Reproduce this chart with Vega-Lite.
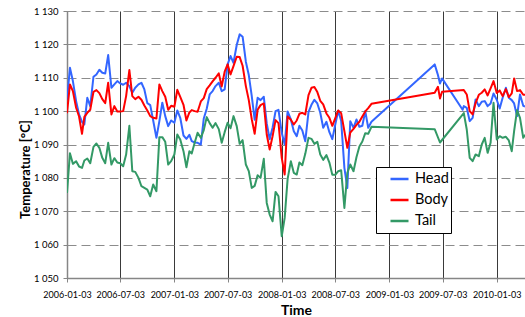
{
  "$schema": "https://vega.github.io/schema/vega-lite/v6.json",
  "width": 458,
  "height": 267,
  "autosize": {"type": "none"},
  "padding": {"left": 67, "top": 11, "right": 0, "bottom": 39},
  "background": "white",
  "config": {"view": {"stroke": null}},
  "data": {"values": [
    {"t": "2006-01-03", "Head": 1103.3, "Body": 1099.4, "Tail": 1075.5},
    {"t": "2006-01-13", "Head": 1113.0, "Body": 1108.0, "Tail": 1087.4},
    {"t": "2006-01-23", "Head": 1109.0, "Body": 1106.0, "Tail": 1084.2},
    {"t": "2006-02-03", "Head": 1103.0, "Body": 1101.0, "Tail": 1085.0},
    {"t": "2006-02-13", "Head": 1099.0, "Body": 1098.4, "Tail": 1083.4},
    {"t": "2006-02-23", "Head": 1096.8, "Body": 1093.2, "Tail": 1083.0},
    {"t": "2006-03-03", "Head": 1096.0, "Body": 1098.3, "Tail": 1085.2},
    {"t": "2006-03-13", "Head": 1104.0, "Body": 1099.5, "Tail": 1085.8},
    {"t": "2006-03-23", "Head": 1101.5, "Body": 1100.4, "Tail": 1084.4},
    {"t": "2006-04-03", "Head": 1110.3, "Body": 1105.8, "Tail": 1089.3},
    {"t": "2006-04-13", "Head": 1111.0, "Body": 1106.3, "Tail": 1090.3},
    {"t": "2006-04-23", "Head": 1112.4, "Body": 1105.4, "Tail": 1089.0},
    {"t": "2006-05-03", "Head": 1111.5, "Body": 1103.6, "Tail": 1086.0},
    {"t": "2006-05-13", "Head": 1111.3, "Body": 1102.4, "Tail": 1084.4},
    {"t": "2006-05-23", "Head": 1116.8, "Body": 1108.5, "Tail": 1090.5},
    {"t": "2006-06-03", "Head": 1107.0, "Body": 1099.0, "Tail": 1084.0},
    {"t": "2006-06-13", "Head": 1108.0, "Body": 1101.5, "Tail": 1085.9},
    {"t": "2006-06-23", "Head": 1109.0, "Body": 1099.9, "Tail": 1084.6},
    {"t": "2006-07-03", "Head": 1108.3, "Body": 1099.9, "Tail": 1084.4},
    {"t": "2006-07-13", "Head": 1107.9, "Body": 1100.0, "Tail": 1083.5},
    {"t": "2006-07-23", "Head": 1108.5, "Body": 1104.5, "Tail": 1087.0},
    {"t": "2006-08-03", "Head": 1107.5, "Body": 1112.3, "Tail": 1095.6},
    {"t": "2006-08-13", "Head": 1105.5, "Body": 1104.5, "Tail": 1082.0},
    {"t": "2006-08-23", "Head": 1107.0, "Body": 1103.6, "Tail": 1081.8},
    {"t": "2006-09-03", "Head": 1108.0, "Body": 1104.3, "Tail": 1080.0},
    {"t": "2006-09-13", "Head": 1108.5, "Body": 1103.4, "Tail": 1077.5},
    {"t": "2006-09-23", "Head": 1106.5, "Body": 1101.7, "Tail": 1077.0},
    {"t": "2006-10-03", "Head": 1102.4, "Body": 1100.2, "Tail": 1076.5},
    {"t": "2006-10-13", "Head": 1101.8, "Body": 1098.5, "Tail": 1074.5},
    {"t": "2006-10-23", "Head": 1097.2, "Body": 1098.0, "Tail": 1078.0},
    {"t": "2006-11-03", "Head": 1092.0, "Body": 1097.8, "Tail": 1076.0},
    {"t": "2006-11-13", "Head": 1097.0, "Body": 1108.0, "Tail": 1092.2},
    {"t": "2006-11-23", "Head": 1102.5, "Body": 1106.0, "Tail": 1092.2},
    {"t": "2006-12-03", "Head": 1098.5, "Body": 1104.3, "Tail": 1090.8},
    {"t": "2006-12-13", "Head": 1095.5, "Body": 1100.4, "Tail": 1084.0},
    {"t": "2006-12-23", "Head": 1097.2, "Body": 1101.6, "Tail": 1085.0},
    {"t": "2007-01-03", "Head": 1096.5, "Body": 1101.3, "Tail": 1087.0},
    {"t": "2007-01-13", "Head": 1100.2, "Body": 1106.4, "Tail": 1093.0},
    {"t": "2007-01-23", "Head": 1098.0, "Body": 1104.3, "Tail": 1091.5},
    {"t": "2007-02-03", "Head": 1092.7, "Body": 1101.9, "Tail": 1088.0},
    {"t": "2007-02-13", "Head": 1091.7, "Body": 1097.2, "Tail": 1083.2},
    {"t": "2007-02-23", "Head": 1092.9, "Body": 1099.6, "Tail": 1088.0},
    {"t": "2007-03-03", "Head": 1091.0, "Body": 1100.3, "Tail": 1087.3},
    {"t": "2007-03-13", "Head": 1090.6, "Body": 1100.0, "Tail": 1090.5},
    {"t": "2007-03-23", "Head": 1090.5, "Body": 1099.8, "Tail": 1093.5},
    {"t": "2007-04-03", "Head": 1090.0, "Body": 1102.9, "Tail": 1092.0},
    {"t": "2007-04-13", "Head": 1097.8, "Body": 1103.9, "Tail": 1094.3},
    {"t": "2007-04-23", "Head": 1100.7, "Body": 1106.6, "Tail": 1098.2},
    {"t": "2007-05-03", "Head": 1105.0, "Body": 1107.7, "Tail": 1096.4},
    {"t": "2007-05-13", "Head": 1106.0, "Body": 1108.9, "Tail": 1095.0},
    {"t": "2007-05-23", "Head": 1107.5, "Body": 1110.0, "Tail": 1096.4},
    {"t": "2007-06-03", "Head": 1108.5, "Body": 1111.3, "Tail": 1094.6},
    {"t": "2007-06-13", "Head": 1106.0, "Body": 1107.4, "Tail": 1090.5},
    {"t": "2007-06-23", "Head": 1106.5, "Body": 1111.8, "Tail": 1093.7},
    {"t": "2007-07-03", "Head": 1114.0, "Body": 1114.0, "Tail": 1096.5},
    {"t": "2007-07-13", "Head": 1116.5, "Body": 1111.0, "Tail": 1094.9},
    {"t": "2007-07-23", "Head": 1114.5, "Body": 1113.5, "Tail": 1098.5},
    {"t": "2007-08-03", "Head": 1119.8, "Body": 1116.3, "Tail": 1095.5},
    {"t": "2007-08-13", "Head": 1123.0, "Body": 1116.2, "Tail": 1090.2},
    {"t": "2007-08-23", "Head": 1122.3, "Body": 1113.6, "Tail": 1091.3},
    {"t": "2007-09-03", "Head": 1114.8, "Body": 1107.5, "Tail": 1084.0},
    {"t": "2007-09-13", "Head": 1110.8, "Body": 1103.3, "Tail": 1082.0},
    {"t": "2007-09-23", "Head": 1104.6, "Body": 1097.6, "Tail": 1077.0},
    {"t": "2007-10-03", "Head": 1097.4, "Body": 1093.2, "Tail": 1077.6},
    {"t": "2007-10-13", "Head": 1104.0, "Body": 1100.4, "Tail": 1080.8},
    {"t": "2007-10-23", "Head": 1103.3, "Body": 1101.8, "Tail": 1080.0},
    {"t": "2007-11-03", "Head": 1104.3, "Body": 1102.3, "Tail": 1085.7},
    {"t": "2007-11-13", "Head": 1096.3, "Body": 1093.0, "Tail": 1072.5},
    {"t": "2007-11-23", "Head": 1091.6, "Body": 1088.5, "Tail": 1069.0},
    {"t": "2007-12-03", "Head": 1095.1, "Body": 1092.5, "Tail": 1067.0},
    {"t": "2007-12-13", "Head": 1100.0, "Body": 1097.3, "Tail": 1075.8},
    {"t": "2007-12-23", "Head": 1100.4, "Body": 1096.4, "Tail": 1074.5},
    {"t": "2008-01-03", "Head": 1093.5, "Body": 1086.0, "Tail": 1062.5},
    {"t": "2008-01-13", "Head": 1090.0, "Body": 1081.0, "Tail": 1068.0},
    {"t": "2008-01-23", "Head": 1099.9, "Body": 1098.4, "Tail": 1079.7},
    {"t": "2008-02-03", "Head": 1097.5, "Body": 1097.4, "Tail": 1085.0},
    {"t": "2008-02-13", "Head": 1094.0, "Body": 1096.0, "Tail": 1081.5},
    {"t": "2008-02-23", "Head": 1092.5, "Body": 1097.2, "Tail": 1081.0},
    {"t": "2008-03-03", "Head": 1095.6, "Body": 1099.2, "Tail": 1084.6},
    {"t": "2008-03-13", "Head": 1094.2, "Body": 1099.5, "Tail": 1083.8},
    {"t": "2008-03-23", "Head": 1091.0, "Body": 1099.0, "Tail": 1087.2},
    {"t": "2008-04-03", "Head": 1099.7, "Body": 1104.8, "Tail": 1092.0},
    {"t": "2008-04-13", "Head": 1101.9, "Body": 1107.0, "Tail": 1091.7},
    {"t": "2008-04-23", "Head": 1103.4, "Body": 1107.2, "Tail": 1090.2},
    {"t": "2008-05-03", "Head": 1102.3, "Body": 1105.7, "Tail": 1090.8},
    {"t": "2008-05-13", "Head": 1099.5, "Body": 1103.1, "Tail": 1087.0},
    {"t": "2008-05-23", "Head": 1095.0, "Body": 1102.0, "Tail": 1085.4},
    {"t": "2008-06-03", "Head": 1096.8, "Body": 1099.3, "Tail": 1086.8},
    {"t": "2008-06-13", "Head": 1093.7, "Body": 1098.0, "Tail": 1084.6},
    {"t": "2008-06-23", "Head": 1091.6, "Body": 1095.6, "Tail": 1080.9},
    {"t": "2008-07-03", "Head": 1096.0, "Body": 1097.9, "Tail": 1080.9},
    {"t": "2008-07-13", "Head": 1100.1, "Body": 1100.2, "Tail": 1082.0},
    {"t": "2008-07-23", "Head": 1097.1, "Body": 1099.4, "Tail": 1082.3},
    {"t": "2008-08-03", "Head": 1083.0, "Body": 1094.0, "Tail": 1071.0},
    {"t": "2008-08-13", "Head": 1077.0, "Body": 1089.0, "Tail": 1081.5},
    {"t": "2008-08-23", "Head": 1097.0, "Body": 1093.6, "Tail": 1084.0},
    {"t": "2008-09-03", "Head": 1095.0, "Body": 1094.7, "Tail": 1082.0},
    {"t": "2008-09-13", "Head": 1097.5, "Body": 1095.9, "Tail": 1086.2},
    {"t": "2008-09-23", "Head": 1095.3, "Body": 1096.8, "Tail": 1089.4},
    {"t": "2008-10-03", "Head": 1095.6, "Body": 1098.4, "Tail": 1090.9},
    {"t": "2008-10-13", "Head": 1100.0, "Body": 1099.9, "Tail": 1093.4},
    {"t": "2008-10-23", "Head": 1095.0, "Body": 1100.9, "Tail": 1093.2},
    {"t": "2008-11-03", "Head": 1096.8, "Body": 1102.2, "Tail": 1095.3},
    {"t": "2009-06-06", "Head": 1114.0, "Body": 1105.5, "Tail": 1094.6},
    {"t": "2009-06-17", "Head": 1110.8, "Body": 1107.3, "Tail": null},
    {"t": "2009-06-24", "Head": 1108.3, "Body": 1103.8, "Tail": 1090.6},
    {"t": "2009-07-01", "Head": 1109.8, "Body": 1105.8, "Tail": null},
    {"t": "2009-09-09", "Head": 1100.4, "Body": null, "Tail": null},
    {"t": "2009-09-13", "Head": 1101.5, "Body": 1106.3, "Tail": 1099.4},
    {"t": "2009-09-23", "Head": 1101.0, "Body": 1105.0, "Tail": 1094.5},
    {"t": "2009-10-03", "Head": 1097.0, "Body": 1100.0, "Tail": 1086.0},
    {"t": "2009-10-13", "Head": 1098.0, "Body": 1099.0, "Tail": 1085.0},
    {"t": "2009-10-23", "Head": 1103.5, "Body": 1102.4, "Tail": 1087.0},
    {"t": "2009-11-03", "Head": 1101.5, "Body": 1104.9, "Tail": 1086.5},
    {"t": "2009-11-13", "Head": 1102.8, "Body": 1105.5, "Tail": 1090.0},
    {"t": "2009-11-23", "Head": 1103.0, "Body": 1106.5, "Tail": 1092.0},
    {"t": "2009-12-03", "Head": 1101.5, "Body": 1104.7, "Tail": 1087.5},
    {"t": "2009-12-13", "Head": 1102.3, "Body": 1106.8, "Tail": 1090.5},
    {"t": "2009-12-23", "Head": 1105.3, "Body": 1109.0, "Tail": 1102.5},
    {"t": "2010-01-03", "Head": 1103.4, "Body": 1105.4, "Tail": 1091.5},
    {"t": "2010-01-13", "Head": 1100.8, "Body": 1106.2, "Tail": 1092.5},
    {"t": "2010-01-23", "Head": 1104.0, "Body": 1104.5, "Tail": 1092.0},
    {"t": "2010-02-03", "Head": 1107.0, "Body": 1106.6, "Tail": 1092.3},
    {"t": "2010-02-13", "Head": 1104.0, "Body": 1104.2, "Tail": 1091.2},
    {"t": "2010-02-23", "Head": 1103.3, "Body": 1105.3, "Tail": 1088.0},
    {"t": "2010-03-03", "Head": 1102.3, "Body": 1109.8, "Tail": 1094.0},
    {"t": "2010-03-13", "Head": 1098.5, "Body": 1106.0, "Tail": 1100.3},
    {"t": "2010-03-23", "Head": 1105.0, "Body": 1106.3, "Tail": 1098.0},
    {"t": "2010-04-03", "Head": 1101.6, "Body": 1104.9, "Tail": 1092.0},
    {"t": "2010-04-09", "Head": 1101.4, "Body": 1104.9, "Tail": 1092.9}
  ]},
  "transform": [
    {"fold": ["Head", "Body", "Tail"], "as": ["series", "value"]},
    {"filter": "isValid(datum.value)"}
  ],
  "mark": {"type": "line", "strokeWidth": 2, "strokeJoin": "round", "clip": true},
  "encoding": {
    "x": {
      "field": "t",
      "type": "temporal",
      "scale": {
        "type": "utc",
        "domain": [
          {"year": 2006, "month": 1, "date": 3, "utc": true},
          {"year": 2010, "month": 4, "date": 9, "utc": true}
        ]
      },
      "axis": {
        "title": "Time",
        "values": [
          {"year": 2006, "month": 1, "date": 3, "utc": true},
          {"year": 2006, "month": 7, "date": 3, "utc": true},
          {"year": 2007, "month": 1, "date": 3, "utc": true},
          {"year": 2007, "month": 7, "date": 3, "utc": true},
          {"year": 2008, "month": 1, "date": 3, "utc": true},
          {"year": 2008, "month": 7, "date": 3, "utc": true},
          {"year": 2009, "month": 1, "date": 3, "utc": true},
          {"year": 2009, "month": 7, "date": 3, "utc": true},
          {"year": 2010, "month": 1, "date": 3, "utc": true}
        ],
        "labelExpr": "utcFormat(datum.value, '%Y-%m-%d')",
        "labelFlush": false,
        "labelOverlap": false,
        "grid": true,
        "gridColor": "#3a3a3a",
        "gridWidth": 1,
        "domainColor": "#868686",
        "domainWidth": 1.5,
        "tickColor": "#868686",
        "tickSize": 4,
        "labelFont": "Lato",
        "labelFontSize": 9,
        "labelColor": "#000000",
        "labelPadding": 8,
        "titleFont": "Lato",
        "titleFontSize": 14,
        "titleFontWeight": "bold",
        "titleColor": "#000000",
        "titleY": 36,
        "titleBaseline": "alphabetic"
      }
    },
    "y": {
      "field": "value",
      "type": "quantitative",
      "scale": {"domain": [1050, 1130], "nice": false, "zero": false},
      "axis": {
        "title": "Temperature [°C]",
        "values": [1050, 1060, 1070, 1080, 1090, 1100, 1110, 1120, 1130],
        "labelExpr": "replace(format(datum.value, ','), ',', ' ')",
        "grid": true,
        "gridColor": "#8c8c8c",
        "gridDash": [9, 5],
        "gridWidth": 1,
        "domainColor": "#868686",
        "domainWidth": 1.5,
        "tickColor": "#868686",
        "tickSize": 4,
        "labelFont": "Lato",
        "labelFontSize": 9.5,
        "labelColor": "#000000",
        "labelPadding": 5,
        "titleFont": "Lato",
        "titleFontSize": 13,
        "titleFontWeight": "bold",
        "titleColor": "#000000",
        "titleAngle": -90,
        "titleX": -38,
        "titleY": 158,
        "titleAlign": "center",
        "titleBaseline": "alphabetic"
      }
    },
    "color": {
      "field": "series",
      "type": "nominal",
      "scale": {"domain": ["Head", "Body", "Tail"], "range": ["#3366FF", "#FF0000", "#339966"]},
      "legend": {
        "title": null,
        "orient": "none",
        "legendX": 309,
        "legendY": 156,
        "direction": "vertical",
        "strokeColor": "#000000",
        "fillColor": "#FFFFFF",
        "padding": 2,
        "symbolType": "stroke",
        "symbolSize": 324,
        "symbolStrokeWidth": 2.5,
        "symbolOffset": 11,
        "labelFont": "Lato",
        "labelFontSize": 14.5,
        "labelColor": "#000000",
        "labelOffset": 5,
        "rowPadding": 1,
        "clipHeight": 20,
        "labelExpr": "datum.label + '    '"
      }
    }
  }
}
